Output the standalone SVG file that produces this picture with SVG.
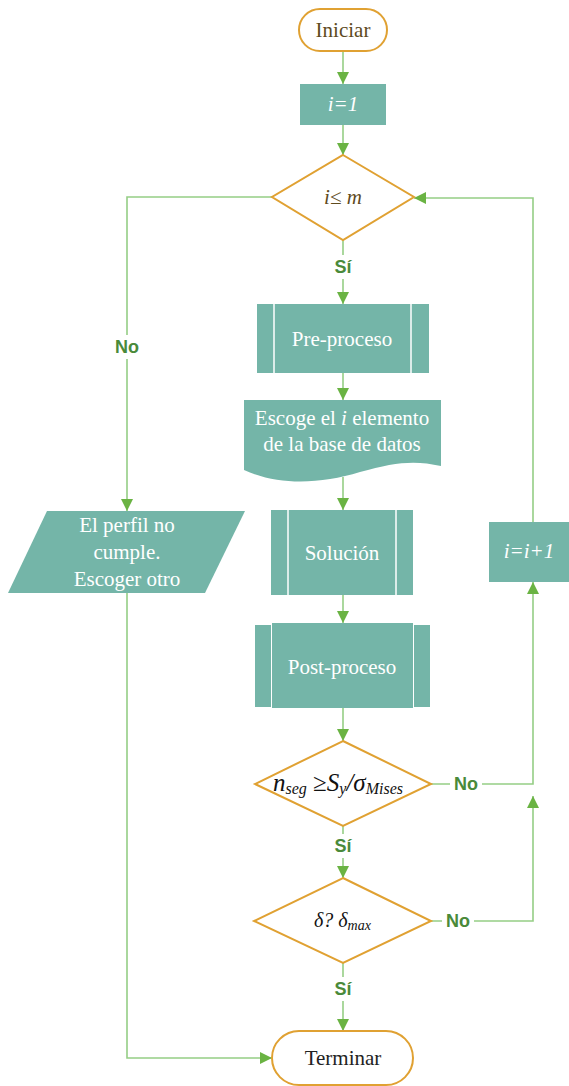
<svg xmlns="http://www.w3.org/2000/svg" width="569" height="1086" viewBox="0 0 569 1086">
<defs>
<marker id="arr" viewBox="0 0 10 10" refX="10" refY="5" markerWidth="12" markerHeight="12" markerUnits="userSpaceOnUse" orient="auto">
<path d="M0,0 L10,5 L0,10 Z" fill="#6AB343"/>
</marker>
</defs>
<style>
.term{fill:#fff;stroke:#E0A132;stroke-width:2}
.dia{fill:#fff;stroke:#E0A132;stroke-width:2}
.box{fill:#74B5A8}
.sep{stroke:#fff;stroke-width:1.5}
.wt{font-family:"Liberation Serif","Times New Roman",serif;font-size:21px;fill:#fff;text-anchor:middle}
.it{font-style:italic}
.bt{font-family:"Liberation Serif","Times New Roman",serif;font-size:21px;text-anchor:middle}
.mt{font-family:"Liberation Serif","Times New Roman",serif;font-style:italic;fill:#111}
.conn{fill:none;stroke:#95CE85;stroke-width:1.6}
.lbl{font-family:"Liberation Sans",Arial,sans-serif;font-size:18px;font-weight:bold;fill:#4A8A3A;text-anchor:middle}
.lb{fill:#fff}
</style>
<g id="connectors">
<path class="conn" d="M343,51 V84" marker-end="url(#arr)"/>
<path class="conn" d="M343,125 V155" marker-end="url(#arr)"/>
<path class="conn" d="M343,240 V304" marker-end="url(#arr)"/>
<path class="conn" d="M343,373 V400" marker-end="url(#arr)"/>
<path class="conn" d="M343,477 V510" marker-end="url(#arr)"/>
<path class="conn" d="M343,595 V623" marker-end="url(#arr)"/>
<path class="conn" d="M343,708 V741" marker-end="url(#arr)"/>
<path class="conn" d="M343,826 V878" marker-end="url(#arr)"/>
<path class="conn" d="M343,963 V1031" marker-end="url(#arr)"/>
<path class="conn" d="M431,784 H533 V582" marker-end="url(#arr)"/>
<path class="conn" d="M431,921 H533 V796" marker-end="url(#arr)"/>
<path class="conn" d="M533,522 V198 H414" marker-end="url(#arr)"/>
<path class="conn" d="M272,197 H127 V511" marker-end="url(#arr)"/>
<path class="conn" d="M127,593 V1058 H272" marker-end="url(#arr)"/>
<rect class="lb" x="329" y="255" width="28" height="24"/>
<text class="lbl" x="343" y="273">Sí</text>
<rect class="lb" x="329" y="834" width="28" height="24"/>
<text class="lbl" x="343" y="852">Sí</text>
<rect class="lb" x="329" y="977" width="28" height="24"/>
<text class="lbl" x="343" y="995">Sí</text>
<rect class="lb" x="111" y="335" width="32" height="24"/>
<text class="lbl" x="127" y="353">No</text>
<rect class="lb" x="450" y="772" width="32" height="24"/>
<text class="lbl" x="466" y="790">No</text>
<rect class="lb" x="442" y="909" width="32" height="24"/>
<text class="lbl" x="458" y="927">No</text>
</g>
<g id="iniciar">
<rect class="term" x="299" y="9" width="88" height="42" rx="21"/>
<text class="bt" x="343" y="37" fill="#5E4B1E">Iniciar</text>
</g>
<g id="init">
<rect class="box" x="300" y="84" width="86" height="41"/>
<text class="wt it" x="343" y="111">i=1</text>
</g>
<g id="cond1">
<polygon class="dia" points="343,155 414,197 343,240 272,197"/>
<text class="bt it" x="343" y="204" fill="#5E4B1E">i≤ m</text>
</g>
<g id="pre">
<rect class="box" x="257" y="304" width="172" height="69"/>
<line class="sep" x1="274" y1="304" x2="274" y2="373"/>
<line class="sep" x1="411" y1="304" x2="411" y2="373"/>
<text class="wt" x="342" y="346">Pre-proceso</text>
</g>
<g id="doc">
<path class="box" d="M244,400 H441 V466 C415,460 395,462 360,472 C320,484 280,486 244,470 Z"/>
<text class="wt" x="342" y="425">Escoge el <tspan class="it">i</tspan> elemento</text>
<text class="wt" x="342" y="451">de la base de datos</text>
</g>
<g id="sol">
<rect class="box" x="271" y="510" width="142" height="85"/>
<line class="sep" x1="288" y1="510" x2="288" y2="595"/>
<line class="sep" x1="396" y1="510" x2="396" y2="595"/>
<text class="wt" x="342" y="560">Solución</text>
</g>
<g id="post">
<rect class="box" x="255" y="625" width="16" height="82"/>
<rect class="box" x="272" y="623" width="141" height="85"/>
<rect class="box" x="414" y="625" width="16" height="82"/>
<text class="wt" x="342" y="674">Post-proceso</text>
</g>
<g id="cond2">
<polygon class="dia" points="343,741 431,784 343,826 255,784"/>
<text class="mt" x="273" y="791"><tspan font-size="25">n</tspan><tspan font-size="16" dy="3">seg</tspan><tspan font-size="25" dy="-3" font-style="normal"> ≥</tspan><tspan font-size="25">S</tspan><tspan font-size="16" dy="3">y</tspan><tspan font-size="25" dy="-3">/σ</tspan><tspan font-size="16" dy="3">Mises</tspan></text>
</g>
<g id="cond3">
<polygon class="dia" points="343,878 431,921 343,963 254,921"/>
<text class="mt" x="314" y="927"><tspan font-size="20">δ? δ</tspan><tspan font-size="14" dy="3">max</tspan></text>
</g>
<g id="incr">
<rect class="box" x="489" y="522" width="80" height="60"/>
<text class="wt it" x="529" y="558">i=i+1</text>
</g>
<g id="fail">
<polygon class="box" points="47,511 245,511 205,593 8,593"/>
<text class="wt" x="127" y="532">El perfil no</text>
<text class="wt" x="127" y="559">cumple.</text>
<text class="wt" x="127" y="586">Escoger otro</text>
</g>
<g id="terminar">
<rect class="term" x="272" y="1031" width="141" height="54" rx="27"/>
<text class="bt" x="343" y="1065" fill="#222">Terminar</text>
</g>
</svg>
